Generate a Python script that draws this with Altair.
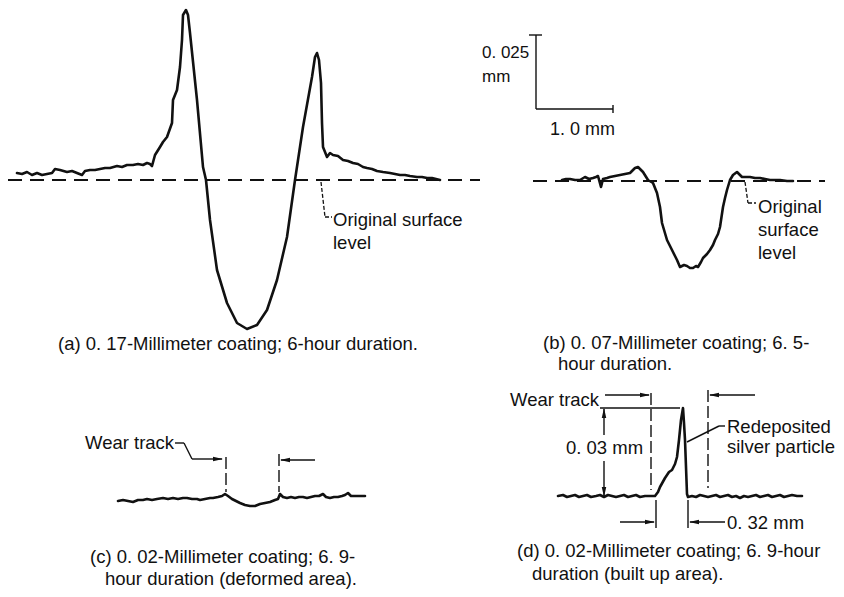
import altair as alt
import pandas as pd

# ---------------- profile traces (x position, height above original surface) ----
a_x = [17, 22, 27, 32, 37, 42, 47, 52, 55, 60, 67, 72, 77, 82, 85, 90, 95, 100, 105, 110,
       117, 122, 127, 133, 138, 143, 147, 150, 152, 155, 160, 163, 167, 172, 173, 177, 180,
       182, 183, 186, 188, 190, 197, 203, 206, 210, 217, 227, 237, 247, 257, 267, 277, 287,
       295, 303, 312, 315, 317, 319, 321, 322, 323, 325, 327, 330, 333, 338, 343, 348, 353,
       358, 363, 367, 372, 377, 383, 390, 395, 400, 405, 410, 417, 422, 427, 432, 440]
a_h = [7, 6, 8, 5, 7, 5, 6, 7, 11, 10, 8, 9, 7, 5, 9, 10, 10, 11, 12, 12,
       14, 13, 15, 15, 16, 15, 17, 16, 14, 25, 33, 38, 43, 57, 80, 90, 113,
       140, 165, 170, 165, 147, 80, 13, 0, -40, -90, -123, -143, -149, -145, -130, -100, -57,
       0, 53, 103, 123, 127, 120, 97, 57, 33, 28, 23, 27, 25, 24, 20, 19, 17,
       16, 13, 12, 11, 9, 8, 7, 6, 5, 5, 4, 3, 3, 2, 2, 0]

b_x = [562, 566, 570, 575, 580, 585, 589, 593, 596, 598, 601, 603, 607, 610, 615, 620, 625,
       630, 635, 638, 643, 648, 653, 657, 660, 662, 667, 672, 675, 677, 680, 684, 687, 690,
       693, 696, 698, 701, 703, 707, 710, 713, 715, 718, 720, 723, 725, 727, 730, 733, 737,
       740, 742, 746, 750, 755, 760, 765, 770, 775, 780, 787, 793]
b_h = [1, 2, 2, 1, 1, 4, 2, 3, 4, 5, -6, 2, 3, 4, 5, 6, 7,
       8, 13, 14, 9, 1, -2, -12, -26, -42, -59, -69, -75, -79, -86, -84, -85, -87,
       -87, -85, -86, -81, -77, -73, -69, -64, -59, -53, -46, -26, -17, -9, 1, 6, 9,
       6, 4, 4, 4, 3, 3, 2, 1, 1, 1, 0, 0]

c_x = [118, 123, 128, 133, 138, 143, 147, 152, 157, 163, 168, 173, 178, 183, 187, 192, 197,
       200, 205, 210, 213, 218, 222, 225, 228, 232, 236, 240, 245, 250, 255, 260, 265, 270,
       275, 278, 280, 283, 287, 291, 295, 299, 303, 307, 311, 315, 319, 323, 326, 330, 334,
       338, 342, 345, 348, 351, 355, 360, 365]
c_h = [-1, 0, -1, -2, 0, 0, 1, 0, 1, 2, 1, 2, 1, 2, 2, 1, 1,
       0, 1, 2, 2, 3, 4, 6, 4, 1, -1, -3, -5, -6, -6, -4, -3, -2,
       0, 1, 6, 3, 2, 3, 2, 3, 3, 2, 3, 4, 4, 6, 3, 2, 3,
       3, 4, 5, 7, 4, 4, 4, 4]

d_x = [558, 563, 567, 571, 575, 579, 583, 587, 591, 596, 600, 604, 608, 612, 616, 620, 624,
       628, 632, 636, 640, 645, 650, 655, 658, 660, 665, 669, 672, 675, 677, 679, 681, 683,
       684, 685, 686, 687, 688, 692, 696, 700, 704, 708, 712, 716, 720, 724, 728, 732, 736,
       740, 744, 748, 752, 756, 760, 764, 768, 772, 776, 780, 784, 788, 792, 797, 802]
d_h = [1, 2, 0, 1, 2, 0, 1, 2, 0, 1, 2, 0, 2, 1, 0, 1, 2,
       0, 1, 2, 0, 1, 1, 1, 5, 10, 19, 25, 27, 33, 40, 57, 77, 89,
       74, 57, 30, 3, 0, 1, 0, 2, 1, 0, 1, 2, 0, 1, 2, 0, 1,
       -1, 1, 0, 1, 2, 0, 1, 2, 0, 1, 2, 0, 1, 2, 1, 1]

panels = ["a", "b", "c", "d"]
surface_level = {"a": 180, "b": 181, "c": 500, "d": 497}   # original-surface line of each panel
traces = {"a": (a_x, a_h), "b": (b_x, b_h), "c": (c_x, c_h), "d": (d_x, d_h)}

rows = []
for p in panels:
    xs, hs = traces[p]
    for i, (xv, hv) in enumerate(zip(xs, hs)):
        rows.append({"panel": p, "i": i, "x": xv, "y": surface_level[p] - hv})
profiles = pd.DataFrame(rows)

# original surface (dashed) lines
surf_panel = ["a", "b"]
surf_from = [8, 533]
surf_to = [480, 825]
surf = pd.DataFrame({
    "x": surf_from, "x2": surf_to,
    "y": [surface_level[p] for p in surf_panel],
    "y2": [surface_level[p] for p in surf_panel],
})

# ---------------- annotation geometry ----------------
seg_style = ["solid"] * 4 + ["solid"] * 4 + ["solid"] * 11 + ["dash"] * 4 + ["dot"] * 4
seg_x1 = [536, 529, 536, 613,
          175, 184, 192, 315,
          605, 755, 600, 604, 604, 687, 719, 620, 656, 688, 725,
          226, 279, 651, 708,
          321, 325, 745, 748]
seg_y1 = [35, 35, 109, 105,
          443, 443, 459, 460,
          395, 395, 408, 409, 461, 442, 426, 522, 500, 500, 522,
          457, 454, 393, 390,
          182, 217, 182, 203]
seg_x2 = [536, 542, 613, 613,
          184, 192, 222, 281,
          649, 710, 680, 604, 604, 719, 725, 654, 656, 688, 690,
          226, 279, 651, 708,
          325, 332, 748, 756]
seg_y2 = [109, 35, 109, 113,
          443, 459, 459, 460,
          395, 395, 408, 435, 496, 426, 426, 522, 528, 528, 522,
          492, 492, 490, 488,
          217, 217, 203, 203]
segs = pd.DataFrame({"style": seg_style, "x": seg_x1, "y": seg_y1, "x2": seg_x2, "y2": seg_y2})

arrow_x = [223, 280, 650, 709, 604, 604, 655, 689]
arrow_y = [459, 460, 395, 395, 408, 497, 522, 522]
arrow_angle = [0, 180, 0, 180, 270, 90, 0, 180]
arrows = pd.DataFrame({"x": arrow_x, "y": arrow_y, "angle": arrow_angle})

# ---------------- texts ----------------
labels = ["Original surface", "level",
          "0. 025", "mm", "1. 0 mm",
          "Original", "surface", "level",
          "Wear track",
          "Wear track", "0. 03 mm", "Redeposited", "silver particle", "0. 32 mm"]
label_x = [333, 333, 482, 482, 550, 758, 758, 758, 85, 510, 566, 727, 727, 727]
label_y = [220, 243, 53, 77, 130, 207, 230, 253, 443, 400, 448, 427, 447, 523]
label_fs = [18.5, 18.5, 17, 17, 18, 18.5, 18.5, 18.5, 18.5, 18.5, 18.5, 18.5, 18.5, 18.5]
texts = pd.DataFrame({"t": labels, "x": label_x, "y": label_y, "fs": label_fs})

captions = ["(a) 0. 17-Millimeter coating;  6-hour duration.",
            "(b) 0. 07-Millimeter coating;  6. 5-",
            "hour duration.",
            "(c) 0. 02-Millimeter coating;  6. 9-",
            "hour duration (deformed area).",
            "(d) 0. 02-Millimeter coating;  6. 9-hour",
            "duration (built up area)."]
cap_x = [58, 543, 558, 90, 105, 517, 532]
cap_y = [344, 343, 364, 557, 579, 551, 574]
caps = pd.DataFrame({"t": captions, "x": cap_x, "y": cap_y})

# ---------------- chart ----------------
XS = alt.Scale(domain=[8, 836], nice=False, zero=False)
YS = alt.Scale(domain=[589, 8], nice=False, zero=False)
FONT = "Liberation Sans"
FS = 18.5
INK = "#111111"

def X(f="x"):
    return alt.X(f"{f}:Q", scale=XS, axis=None)

def Y(f="y"):
    return alt.Y(f"{f}:Q", scale=YS, axis=None)

profile_layer = alt.Chart(profiles).mark_line(
    color=INK, strokeWidth=2.6, strokeJoin="round", strokeCap="round"
).encode(x=X(), y=Y(), detail="panel:N", order="i:Q")

surf_layer = alt.Chart(surf).mark_rule(
    color=INK, strokeWidth=2.2, strokeDash=[14, 8]
).encode(x=X(), y=Y(), x2="x2:Q", y2="y2:Q")

solid_layer = alt.Chart(segs).transform_filter(alt.datum.style == "solid").mark_rule(
    color=INK, strokeWidth=1.4
).encode(x=X(), y=Y(), x2="x2:Q", y2="y2:Q")

dash_layer = alt.Chart(segs).transform_filter(alt.datum.style == "dash").mark_rule(
    color=INK, strokeWidth=1.4, strokeDash=[12, 4]
).encode(x=X(), y=Y(), x2="x2:Q", y2="y2:Q")

dot_layer = alt.Chart(segs).transform_filter(alt.datum.style == "dot").mark_rule(
    color=INK, strokeWidth=1.3, strokeDash=[4, 2]
).encode(x=X(), y=Y(), x2="x2:Q", y2="y2:Q")

arrow_layer = alt.Chart(arrows).mark_point(
    shape="M0,0L-2,-0.45L-2,0.45Z", filled=True, size=100, color=INK, opacity=1, strokeWidth=0
).encode(x=X(), y=Y(), angle=alt.Angle("angle:Q", scale=None))

text_layer = alt.Chart(texts).mark_text(
    align="left", baseline="middle", font=FONT, color=INK
).encode(x=X(), y=Y(), text="t:N", size=alt.Size("fs:Q", scale=None))

cap_layer = alt.Chart(caps).mark_text(
    align="left", baseline="middle", font=FONT, fontSize=FS, color=INK
).encode(x=X(), y=Y(), text="t:N")

chart = alt.layer(
    surf_layer, profile_layer, solid_layer, dash_layer, dot_layer, arrow_layer,
    text_layer, cap_layer
).properties(
    width=828, height=581, autosize="none", padding=0, background="white"
).configure_view(stroke=None)

chart.save("out.html", embed_options={"renderer": "svg", "actions": False})
